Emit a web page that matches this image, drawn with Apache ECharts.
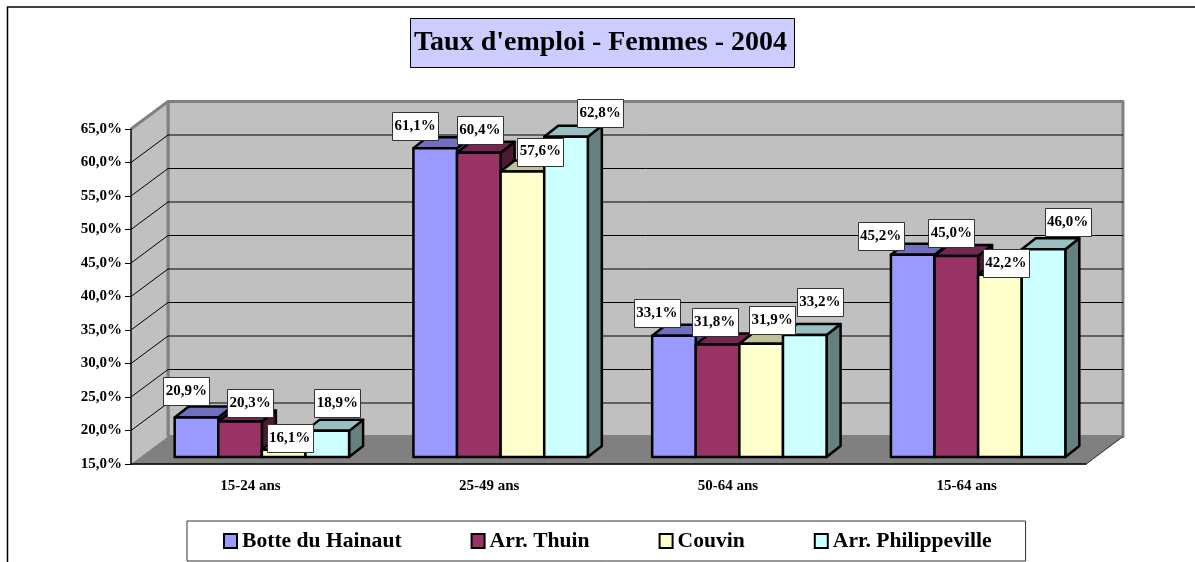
<!DOCTYPE html>
<html>
<head>
<meta charset="utf-8">
<style>
  html, body { margin: 0; padding: 0; background: #fff; }
  #main { width: 1195px; height: 562px; }
</style>
<script src="https://cdn.jsdelivr.net/npm/echarts@6/dist/echarts.min.js"></script>
</head>
<body>
<div id="main"></div>
<script>
// donnees du graphique
var categories = ['15-24 ans', '25-49 ans', '50-64 ans', '15-64 ans']
var botte = [20.9, 61.1, 33.1, 45.2]
var thuin = [20.3, 60.4, 31.8, 45.0]
var couvin = [16.1, 57.6, 31.9, 42.2]
var philippeville = [18.9, 62.8, 33.2, 46.0]
var gridTicks = [20, 25, 30, 35, 40, 45, 50, 55, 60]

// decalage des etiquettes par rapport au haut de la barre (place a la main comme dans Excel)
var labelShift = [
  [[-10, -26], [-20, -22], [-17, -23], [-32, -19]],
  [[10, -18], [1, -23], [-3, -22], [-5, -23]],
  [[6, -12], [18, -20], [11, -24], [6, -12]],
  [[10, -28], [34, -24], [15, -33], [24, -27]]
]

var FONT = '"Liberation Serif", "Times New Roman", serif'
// profondeur du mur et des barres
var WALL_DX = 37, WALL_DY = 27.5
var BAR_DX = 14, BAR_DY = 11
var INSET_X = 11.5, INSET_Y = 7
var BAR_W = 43.6

function fmt (v) {
  return v.toFixed(1).replace('.', ',') + '%'
}

function poly (points, fill, stroke, lineWidth) {
  return {
    type: 'polygon',
    shape: { points: points },
    style: { fill: fill, stroke: stroke, lineWidth: lineWidth, lineJoin: 'round' }
  }
}

// murs et sol
function renderWalls (params, api) {
  var c = params.coordSys
  var l = c.x, t = c.y, r = c.x + c.width, b = c.y + c.height
  return {
    type: 'group',
    children: [
      poly([[l, b], [l + WALL_DX, b - WALL_DY], [r + WALL_DX, b - WALL_DY], [r, b]], '#808080', '#808080', 1),
      poly([[l + WALL_DX, t - WALL_DY], [r + WALL_DX, t - WALL_DY], [r + WALL_DX, b - WALL_DY], [l + WALL_DX, b - WALL_DY]], '#c0c0c0', '#808080', 3),
      poly([[l, t], [l + WALL_DX, t - WALL_DY], [l + WALL_DX, b - WALL_DY], [l, b]], '#c0c0c0', null, 0),
      {
        type: 'polyline',
        shape: { points: [[l, t], [l + WALL_DX, t - WALL_DY]] },
        style: { fill: null, stroke: '#808080', lineWidth: 3 }
      },
      {
        type: 'polyline',
        shape: { points: [[l + WALL_DX, t - WALL_DY], [l + WALL_DX, b - WALL_DY]] },
        style: { fill: null, stroke: '#808080', lineWidth: 3 }
      },
      {
        type: 'polyline',
        shape: { points: [[r, b], [r + WALL_DX, b - WALL_DY]] },
        style: { fill: null, stroke: '#333', lineWidth: 1 }
      }
    ]
  }
}

// lignes de grille sur le mur gauche et le mur du fond
function renderGrid (params, api) {
  var c = params.coordSys
  var y = api.coord([0, api.value(0)])[1]
  var l = c.x, r = c.x + c.width
  return {
    type: 'polyline',
    shape: { points: [[l, y], [l + WALL_DX, y - WALL_DY], [r + WALL_DX, y - WALL_DY]] },
    style: { fill: null, stroke: '#000', lineWidth: 1 }
  }
}

function barRenderer (seriesIndex, top, side) {
  return function (params, api) {
    var cat = api.value(0)
    var p = api.coord([cat, api.value(1)])
    var base = api.coord([cat, 15])
    var x = p[0] + INSET_X + (seriesIndex - 2) * BAR_W
    var y0 = p[1] - INSET_Y
    var y1 = base[1] - INSET_Y
    var x1 = x + BAR_W
    return {
      type: 'group',
      children: [
        poly([[x1, y0], [x1 + BAR_DX, y0 - BAR_DY], [x1 + BAR_DX, y1 - BAR_DY], [x1, y1]], side, '#000', 2.5),
        poly([[x, y0], [x + BAR_DX, y0 - BAR_DY], [x1 + BAR_DX, y0 - BAR_DY], [x1, y0]], top, '#000', 2.5),
        poly([[x, y0], [x1, y0], [x1, y1], [x, y1]], api.visual('color'), '#000', 2.5)
      ]
    }
  }
}

function labelRenderer (seriesIndex) {
  return function (params, api) {
    var cat = api.value(0)
    var v = api.value(1)
    var p = api.coord([cat, v])
    var s = labelShift[seriesIndex][cat]
    var cx = p[0] + INSET_X + (seriesIndex - 1.5) * BAR_W + s[0]
    var cy = p[1] - INSET_Y + s[1]
    return {
      type: 'group',
      children: [
        {
          type: 'rect',
          shape: { x: Math.round(cx - 23) + 0.5, y: Math.round(cy - 14) + 0.5, width: 46, height: 28 },
          style: { fill: '#fff', stroke: '#333', lineWidth: 1 }
        },
        {
          type: 'text',
          x: cx,
          y: cy,
          style: {
            text: fmt(v),
            fill: '#000',
            font: 'bold 15px ' + FONT,
            align: 'center',
            verticalAlign: 'middle'
          }
        }
      ]
    }
  }
}

function toPairs (values) {
  return values.map(function (v, i) { return [i, v] })
}

var groups = [
  { name: 'Botte du Hainaut', values: botte, color: '#9999ff', top: '#7070c0', side: '#4d4d80' },
  { name: 'Arr. Thuin', values: thuin, color: '#993366', top: '#732650', side: '#4d1a33' },
  { name: 'Couvin', values: couvin, color: '#ffffcc', top: '#c0c099', side: '#808066' },
  { name: 'Arr. Philippeville', values: philippeville, color: '#ccffff', top: '#99c0c0', side: '#668080' }
]

var series = [
  { type: 'custom', z: 1, silent: true, renderItem: renderWalls, data: [[0]], encode: { x: 0 } },
  { type: 'custom', z: 2, silent: true, renderItem: renderGrid, data: gridTicks.map(function (t) { return [t] }), encode: { y: 0 } }
]

groups.forEach(function (g, i) {
  series.push({
    name: g.name,
    type: 'custom',
    z: 4,
    renderItem: barRenderer(i, g.top, g.side),
    itemStyle: { color: g.color },
    encode: { x: 0, y: 1 },
    data: toPairs(g.values)
  })
})

groups.forEach(function (g, i) {
  series.push({
    type: 'custom',
    z: 5,
    silent: true,
    renderItem: labelRenderer(i),
    encode: { x: 0, y: 1 },
    data: toPairs(g.values)
  })
})

var myCharts = echarts.init(document.getElementById('main'))
myCharts.setOption({
  animation: false,
  grid: { left: 131, top: 129, width: 955, height: 335 },
  title: {
    text: "Taux d'emploi - Femmes - 2004",
    left: 410,
    top: 18,
    padding: [11, 8, 11, 4],
    backgroundColor: '#ccccff',
    borderColor: '#000',
    borderWidth: 1,
    textStyle: { fontFamily: FONT, fontSize: 28, fontWeight: 'bold', color: '#000' }
  },
  legend: {
    left: 187,
    top: 521,
    padding: [9, 34, 9, 36],
    itemGap: 69,
    itemWidth: 13,
    itemHeight: 14,
    icon: 'rect',
    backgroundColor: '#fff',
    borderColor: '#333',
    borderWidth: 1,
    itemStyle: { borderColor: '#000', borderWidth: 2 },
    textStyle: { fontFamily: FONT, fontSize: 21.6, fontWeight: 'bold', color: '#000' },
    data: groups.map(function (g) { return g.name })
  },
  xAxis: {
    type: 'category',
    data: categories,
    z: 3,
    axisLine: { lineStyle: { color: '#000', width: 1.5 } },
    axisTick: { length: 6, lineStyle: { color: '#444' } },
    axisLabel: { color: '#000', fontFamily: FONT, fontWeight: 'bold', fontSize: 15, margin: 15 }
  },
  yAxis: {
    type: 'value',
    min: 15,
    max: 65,
    interval: 5,
    z: 3,
    splitLine: { show: false },
    axisLine: { show: true, lineStyle: { color: '#000', width: 1.5 } },
    axisTick: { show: true, length: 6, lineStyle: { color: '#000' } },
    axisLabel: { color: '#000', fontFamily: FONT, fontWeight: 'bold', fontSize: 15, margin: 9, padding: [6, 0, 0, 0], formatter: fmt }
  },
  series: series,
  graphic: [
    {
      type: 'polyline',
      shape: { points: [[7.5, 562], [7.5, 7], [1195, 7]] },
      style: { fill: null, stroke: '#000', lineWidth: 1.5 }
    }
  ]
})
</script>
</body>
</html>
